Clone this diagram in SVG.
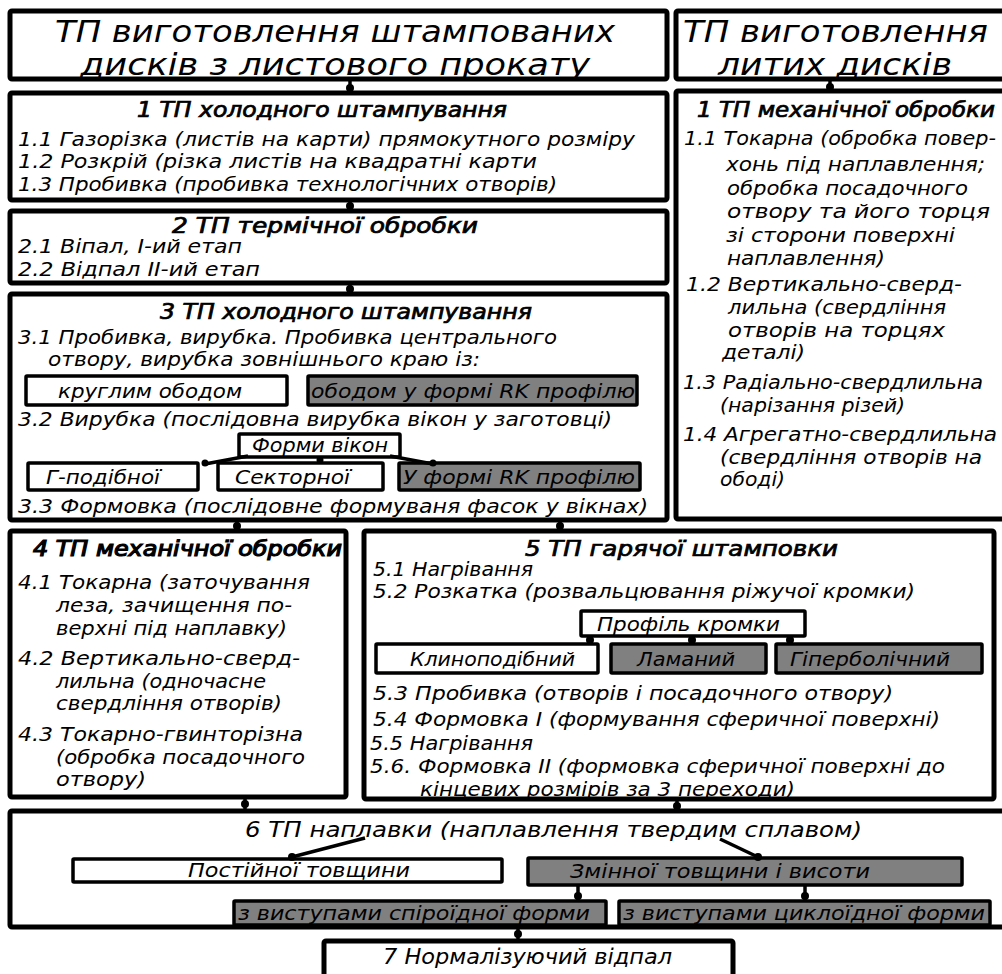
<svg xmlns="http://www.w3.org/2000/svg" width="1002" height="974" viewBox="0 0 1002 974">
<defs>
<style>
.b{fill:#fff;stroke:#000;stroke-width:5}
.s{fill:#fff;stroke:#000;stroke-width:3.5}
.g{fill:#808080;stroke:#000;stroke-width:3.5}
.c line{stroke:#000;stroke-width:3.5}
.c circle{fill:#000}
text{font-family:"DejaVu Sans Condensed","DejaVu Sans","Liberation Sans",sans-serif;font-style:oblique;fill:#000}
.t{font-size:20px}
.h{font-size:21px;stroke:#000;stroke-width:0.7}
.big{font-size:30px}
.m{font-size:22px}
</style>
</defs>
<rect width="1002" height="974" fill="#fff"/>

<g id="title-stamped">
<rect class="b" x="10" y="11" width="657" height="68" rx="2"/>
<text class="big" x="55" y="42" textLength="560" lengthAdjust="spacingAndGlyphs">ТП виготовлення штампованих</text>
<text class="big" x="80" y="75" textLength="510" lengthAdjust="spacingAndGlyphs">дисків з листового прокату</text>
</g>

<g id="title-cast">
<rect class="b" x="676" y="11" width="340" height="68" rx="2"/>
<text class="big" x="683" y="42" textLength="305" lengthAdjust="spacingAndGlyphs">ТП виготовлення</text>
<text class="big" x="718" y="75" textLength="234" lengthAdjust="spacingAndGlyphs">литих дисків</text>
</g>

<g id="s1">
<rect class="b" x="10" y="93" width="657" height="107" rx="2"/>
<text class="h" x="137" y="117" textLength="370" lengthAdjust="spacingAndGlyphs">1 ТП холодного штампування</text>
<text class="t" x="18" y="146" textLength="617" lengthAdjust="spacingAndGlyphs">1.1 Газорізка (листів на карти) прямокутного розміру</text>
<text class="t" x="18" y="168" textLength="519" lengthAdjust="spacingAndGlyphs">1.2 Розкрій (різка листів на квадратні карти</text>
<text class="t" x="18" y="191" textLength="539" lengthAdjust="spacingAndGlyphs">1.3 Пробивка (пробивка технологічних отворів)</text>
</g>

<g id="s2">
<rect class="b" x="10" y="211" width="657" height="72" rx="2"/>
<text class="h" x="172" y="233" textLength="306" lengthAdjust="spacingAndGlyphs">2 ТП термічної обробки</text>
<text class="t" x="18" y="253" textLength="224" lengthAdjust="spacingAndGlyphs">2.1 Віпал, І-ий етап</text>
<text class="t" x="18" y="276" textLength="242" lengthAdjust="spacingAndGlyphs">2.2 Відпал ІІ-ий етап</text>
</g>

<g id="s3">
<rect class="b" x="10" y="294" width="657" height="226" rx="2"/>
<text class="h" x="160" y="319" textLength="372" lengthAdjust="spacingAndGlyphs">3 ТП холодного штампування</text>
<text class="t" x="18" y="344" textLength="539" lengthAdjust="spacingAndGlyphs">3.1 Пробивка, вирубка. Пробивка центрального</text>
<text class="t" x="48" y="366" textLength="432" lengthAdjust="spacingAndGlyphs">отвору, вирубка зовнішнього краю із:</text>
<text class="t" x="18" y="426" textLength="594" lengthAdjust="spacingAndGlyphs">3.2 Вирубка (послідовна вирубка вікон у заготовці)</text>
<text class="t" x="18" y="513" textLength="630" lengthAdjust="spacingAndGlyphs">3.3 Формовка (послідовне формуваня фасок у вікнах)</text>
</g>
<g id="s3-round">
<rect class="s" x="26" y="376" width="261" height="29" rx="1"/>
<text class="t" x="58" y="398" textLength="184" lengthAdjust="spacingAndGlyphs">круглим ободом</text>
</g>
<g id="s3-rk">
<rect class="g" x="308" y="376" width="329" height="29" rx="1"/>
<text class="t" x="311" y="398" textLength="324" lengthAdjust="spacingAndGlyphs">ободом у формі RK профілю</text>
</g>
<g id="s3-windows">
<rect class="s" x="239" y="434" width="161" height="23" rx="1"/>
<text class="t" x="252" y="452" textLength="136" lengthAdjust="spacingAndGlyphs">Форми вікон</text>
</g>
<g id="s3-g">
<rect class="s" x="28" y="463" width="170" height="27" rx="1"/>
<text class="t" x="46" y="484" textLength="114" lengthAdjust="spacingAndGlyphs">Г-подібної</text>
</g>
<g id="s3-sector">
<rect class="s" x="218" y="463" width="165" height="27" rx="1"/>
<text class="t" x="235" y="484" textLength="115" lengthAdjust="spacingAndGlyphs">Секторної</text>
</g>
<g id="s3-rkw">
<rect class="g" x="399" y="463" width="241" height="27" rx="1"/>
<text class="t" x="403" y="484" textLength="232" lengthAdjust="spacingAndGlyphs">У формі RK профілю</text>
</g>

<g id="c1">
<rect class="b" x="676" y="91" width="340" height="428" rx="2"/>
<text class="h" x="697" y="117" textLength="298" lengthAdjust="spacingAndGlyphs">1 ТП механічної обробки</text>
<text class="t" x="684" y="145" textLength="312" lengthAdjust="spacingAndGlyphs">1.1 Токарна (обробка повер-</text>
<text class="t" x="726" y="171" textLength="259" lengthAdjust="spacingAndGlyphs">хонь під наплавлення;</text>
<text class="t" x="727" y="195" textLength="241" lengthAdjust="spacingAndGlyphs">обробка посадочного</text>
<text class="t" x="727" y="218" textLength="263" lengthAdjust="spacingAndGlyphs">отвору та його торця</text>
<text class="t" x="726" y="242" textLength="229" lengthAdjust="spacingAndGlyphs">зі сторони поверхні</text>
<text class="t" x="727" y="265" textLength="158" lengthAdjust="spacingAndGlyphs">наплавлення)</text>
<text class="t" x="686" y="291" textLength="276" lengthAdjust="spacingAndGlyphs">1.2 Вертикально-сверд-</text>
<text class="t" x="728" y="314" textLength="218" lengthAdjust="spacingAndGlyphs">лильна (свердління</text>
<text class="t" x="728" y="337" textLength="217" lengthAdjust="spacingAndGlyphs">отворів на торцях</text>
<text class="t" x="722" y="359" textLength="83" lengthAdjust="spacingAndGlyphs">деталі)</text>
<text class="t" x="683" y="389" textLength="300" lengthAdjust="spacingAndGlyphs">1.3 Радіально-свердлильна</text>
<text class="t" x="720" y="412" textLength="185" lengthAdjust="spacingAndGlyphs">(нарізання різей)</text>
<text class="t" x="683" y="441" textLength="314" lengthAdjust="spacingAndGlyphs">1.4  Агрегатно-свердлильна</text>
<text class="t" x="720" y="464" textLength="262" lengthAdjust="spacingAndGlyphs">(свердління отворів на</text>
<text class="t" x="720" y="486" textLength="65" lengthAdjust="spacingAndGlyphs">ободі)</text>
</g>

<g id="s4">
<rect class="b" x="10" y="531" width="336" height="266" rx="2"/>
<text class="h" x="33" y="556" textLength="309" lengthAdjust="spacingAndGlyphs" style="stroke-width:1.1">4 ТП механічної обробки</text>
<text class="t" x="18" y="589" textLength="292" lengthAdjust="spacingAndGlyphs">4.1 Токарна (заточування</text>
<text class="t" x="56" y="612" textLength="236" lengthAdjust="spacingAndGlyphs">леза, зачищення по-</text>
<text class="t" x="56" y="635" textLength="231" lengthAdjust="spacingAndGlyphs">верхні під наплавку)</text>
<text class="t" x="18" y="665" textLength="282" lengthAdjust="spacingAndGlyphs">4.2 Вертикально-сверд-</text>
<text class="t" x="56" y="688" textLength="210" lengthAdjust="spacingAndGlyphs">лильна (одночасне</text>
<text class="t" x="56" y="710" textLength="226" lengthAdjust="spacingAndGlyphs">свердління отворів)</text>
<text class="t" x="18" y="741" textLength="285" lengthAdjust="spacingAndGlyphs">4.3 Токарно-гвинторізна</text>
<text class="t" x="56" y="764" textLength="249" lengthAdjust="spacingAndGlyphs">(обробка посадочного</text>
<text class="t" x="56" y="786" textLength="90" lengthAdjust="spacingAndGlyphs">отвору)</text>
</g>

<g id="s5">
<rect class="b" x="364" y="531" width="630" height="268" rx="2"/>
<text class="h" x="525" y="556" textLength="313" lengthAdjust="spacingAndGlyphs">5 ТП гарячої штамповки</text>
<text class="t" x="373" y="576" textLength="160" lengthAdjust="spacingAndGlyphs">5.1 Нагрівання</text>
<text class="t" x="373" y="598" textLength="542" lengthAdjust="spacingAndGlyphs">5.2 Розкатка (розвальцювання ріжучої кромки)</text>
<text class="t" x="373" y="700" textLength="520" lengthAdjust="spacingAndGlyphs">5.3 Пробивка (отворів і посадочного отвору)</text>
<text class="t" x="373" y="726" textLength="567" lengthAdjust="spacingAndGlyphs">5.4  Формовка І (формування сферичної поверхні)</text>
<text class="t" x="370" y="750" textLength="163" lengthAdjust="spacingAndGlyphs">5.5 Нагрівання</text>
<text class="t" x="370" y="773" textLength="575" lengthAdjust="spacingAndGlyphs">5.6.  Формовка ІІ (формовка сферичної поверхні до</text>
<text class="t" x="420" y="796" textLength="375" lengthAdjust="spacingAndGlyphs">кінцевих розмірів за 3 переходи)</text>
</g>
<g id="s5-profile">
<rect class="s" x="581" y="611" width="224" height="25" rx="1"/>
<text class="t" x="597" y="631" textLength="183" lengthAdjust="spacingAndGlyphs">Профіль кромки</text>
</g>
<g id="s5-wedge">
<rect class="s" x="376" y="644" width="222" height="29" rx="1"/>
<text class="t" x="410" y="666" textLength="165" lengthAdjust="spacingAndGlyphs">Клиноподібний</text>
</g>
<g id="s5-broken">
<rect class="g" x="611" y="644" width="155" height="29" rx="1"/>
<text class="t" x="637" y="666" textLength="98" lengthAdjust="spacingAndGlyphs">Ламаний</text>
</g>
<g id="s5-hyper">
<rect class="g" x="776" y="644" width="206" height="29" rx="1"/>
<text class="t" x="790" y="666" textLength="160" lengthAdjust="spacingAndGlyphs">Гіперболічний</text>
</g>

<g id="s6">
<rect class="b" x="10" y="811" width="1010" height="116" rx="2"/>
<text class="m" x="245" y="837" textLength="617" lengthAdjust="spacingAndGlyphs">6 ТП наплавки (наплавлення твердим сплавом)</text>
</g>
<g id="s6-const">
<rect class="s" x="73" y="859" width="429" height="23" rx="1"/>
<text class="t" x="188" y="877" textLength="222" lengthAdjust="spacingAndGlyphs">Постійної товщини</text>
</g>
<g id="s6-var">
<rect class="g" x="528" y="858" width="434" height="27" rx="1"/>
<text class="t" x="570" y="878" textLength="300" lengthAdjust="spacingAndGlyphs">Змінної товщини і висоти</text>
</g>
<g id="s6-spiro">
<rect class="g" x="234" y="901" width="372" height="24" rx="1"/>
<text class="t" x="238" y="920" textLength="352" lengthAdjust="spacingAndGlyphs">з виступами спіроїдної форми</text>
</g>
<g id="s6-cyclo">
<rect class="g" x="619" y="901" width="371" height="24" rx="1"/>
<text class="t" x="623" y="920" textLength="362" lengthAdjust="spacingAndGlyphs">з виступами циклоїдної форми</text>
</g>

<g id="s7">
<rect class="b" x="324" y="941" width="409" height="50" rx="2"/>
<text class="m" x="383" y="964" textLength="289" lengthAdjust="spacingAndGlyphs">7 Нормалізуючий відпал</text>
</g>

<g id="connectors" class="c">
<line x1="350" y1="80" x2="350" y2="92"/><circle cx="350" cy="88" r="4"/>
<line x1="830" y1="80" x2="830" y2="90"/><circle cx="830" cy="87" r="4"/>
<line x1="350" y1="200" x2="350" y2="211"/><circle cx="350" cy="206" r="4"/>
<line x1="350" y1="283" x2="350" y2="294"/><circle cx="350" cy="289" r="4"/>
<line x1="248" y1="456" x2="205" y2="464"/><circle cx="205" cy="463" r="3.5"/>
<line x1="320" y1="456" x2="320" y2="463"/><circle cx="320" cy="460" r="3.5"/>
<line x1="390" y1="456" x2="433" y2="464"/><circle cx="433" cy="463" r="3.5"/>
<line x1="237" y1="520" x2="237" y2="531"/><circle cx="237" cy="526" r="4"/>
<line x1="560" y1="520" x2="560" y2="531"/><circle cx="560" cy="526" r="4"/>
<line x1="590" y1="636" x2="590" y2="644"/><circle cx="590" cy="640" r="4"/>
<line x1="692" y1="636" x2="692" y2="644"/><circle cx="692" cy="640" r="4"/>
<line x1="790" y1="636" x2="790" y2="644"/><circle cx="790" cy="640" r="4"/>
<line x1="245" y1="797" x2="245" y2="811"/><circle cx="245" cy="804" r="4"/>
<line x1="677" y1="799" x2="677" y2="811"/><circle cx="677" cy="806" r="4"/>
<line x1="365" y1="838" x2="292" y2="857"/><circle cx="292" cy="857" r="4"/>
<line x1="720" y1="839" x2="760" y2="858"/><circle cx="758" cy="857" r="4"/>
<line x1="578" y1="885" x2="578" y2="901"/><circle cx="578" cy="896" r="4"/>
<line x1="805" y1="885" x2="805" y2="901"/><circle cx="805" cy="896" r="4"/>
<line x1="518" y1="927" x2="518" y2="941"/><circle cx="518" cy="934" r="4"/>
</g>
</svg>
